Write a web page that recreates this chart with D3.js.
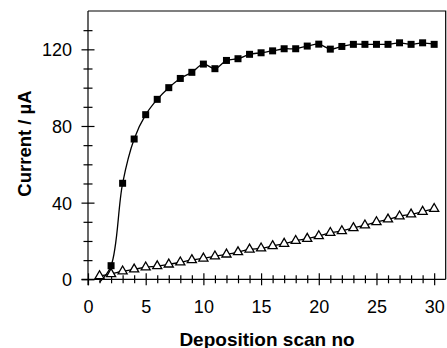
<!DOCTYPE html>
<html>
<head>
<meta charset="utf-8">
<script src="https://cdn.jsdelivr.net/npm/d3@7"></script>
<style>
  html, body { margin: 0; padding: 0; background: #fff; }
  svg { display: block; font-family: Arial, "Liberation Sans", sans-serif; }
</style>
</head>
<body>
<svg id="chart" width="447" height="348"></svg>
<script>
// ---- data ----
const scans = d3.range(1, 31);
const squareValues = [-1.5, 7.1, 50.1, 73.2, 85.9, 93.9, 100.0, 104.8, 108.0, 112.3,
  109.9, 114.2, 115.1, 117.4, 118.2, 119.2, 120.3, 120.3, 121.7, 122.7,
  120.1, 121.5, 122.6, 122.6, 122.6, 122.6, 123.4, 122.6, 123.4, 122.6];
const triangleValues = [1.7, 2.8, 4.2, 5.2, 6.3, 6.9, 7.8, 8.9, 10.1, 10.9,
  12.0, 13.0, 14.2, 15.6, 16.2, 17.4, 18.6, 20.1, 21.2, 22.6,
  24.3, 25.2, 26.8, 28.2, 29.9, 31.3, 32.9, 33.9, 35.3, 36.8];
const xTickLabels = [0, 5, 10, 15, 20, 25, 30];
const yTickLabels = [0, 40, 80, 120];
const xTitle = "Deposition scan no";
const yTitle = "Current / µA";

// ---- layout ----
const svg = d3.select("#chart");
const pLeft = 88, pRight = 445.7, pTop = 11, pBottom = 279.3;
const x = d3.scaleLinear().domain([0, 31]).range([pLeft, pRight]);
const y = d3.scaleLinear().domain([0, 140]).range([pBottom, pTop]);
const FONT = "Arial, 'Liberation Sans', sans-serif";

// frame (top and right)
svg.append("path")
  .attr("d", `M${pLeft},${pTop}H${pRight}V${pBottom}`)
  .attr("fill", "none").attr("stroke", "#000").attr("stroke-width", 1.2);

// y axis
const yAxis = d3.axisLeft(y)
  .tickValues(d3.range(0, 140, 10))
  .tickFormat(d => yTickLabels.includes(d) ? d : "")
  .tickSizeOuter(0);
const gy = svg.append("g").attr("transform", `translate(${pLeft},0)`).call(yAxis);
gy.select(".domain").attr("d", `M0,${pTop}V${pBottom + 6}`).attr("stroke-width", 1.2);
gy.selectAll(".tick line")
  .attr("x1", d => yTickLabels.includes(d) ? -6.5 : -4.5)
  .attr("x2", d => yTickLabels.includes(d) ? 6.5 : 4.5)
  .attr("stroke-width", 1.2);
gy.selectAll(".tick text").attr("x", -16).attr("dy", "0.36em")
  .attr("font-size", 18).attr("font-family", FONT).attr("fill", "#000");

// x axis
const xAxis = d3.axisBottom(x)
  .tickValues(d3.range(0, 31, 1))
  .tickFormat(d => xTickLabels.includes(d) ? d : "")
  .tickSizeOuter(0);
const gx = svg.append("g").attr("transform", `translate(0,${pBottom})`).call(xAxis);
gx.select(".domain").attr("d", `M${pLeft - 6.5},0H${pRight}`).attr("stroke-width", 1.2);
gx.selectAll(".tick line")
  .attr("y1", d => xTickLabels.includes(d) ? -6 : -4)
  .attr("y2", d => xTickLabels.includes(d) ? 6 : 4)
  .attr("stroke-width", 1.2);
gx.selectAll(".tick text").attr("y", 21.3)
  .attr("font-size", 18).attr("font-family", FONT).attr("fill", "#000");

// lines
const line = d3.line()
  .x((d, i) => x(scans[i]))
  .y(d => y(d))
  .curve(d3.curveCatmullRom.alpha(0.5));

svg.append("path").datum(squareValues)
  .attr("d", line).attr("fill", "none").attr("stroke", "#000").attr("stroke-width", 1.3);
svg.append("path").datum(triangleValues)
  .attr("d", line).attr("fill", "none").attr("stroke", "#000").attr("stroke-width", 1.3);

// markers
svg.append("g").selectAll("rect")
  .data(squareValues.map((v, i) => ({ s: scans[i], v })).filter(d => d.v > 0))
  .join("rect")
  .attr("x", d => x(d.s) - 3.5).attr("y", d => y(d.v) - 3.5)
  .attr("width", 7).attr("height", 7).attr("fill", "#000");

const tri = d3.symbol().type(d3.symbolTriangle).size(36);
svg.append("g").selectAll("path")
  .data(triangleValues.map((v, i) => ({ s: scans[i], v })))
  .join("path")
  .attr("transform", d => `translate(${x(d.s)},${y(d.v)})`)
  .attr("d", tri).attr("fill", "#fff").attr("stroke", "#000").attr("stroke-width", 1.3);

// titles
svg.append("text")
  .attr("x", 267).attr("y", 345.5)
  .attr("text-anchor", "middle").attr("font-weight", "bold").attr("font-size", 19)
  .attr("font-family", FONT)
  .text(xTitle);
svg.append("text")
  .attr("transform", "translate(31,143.5) rotate(-90)")
  .attr("text-anchor", "middle").attr("font-weight", "bold").attr("font-size", 18.5)
  .attr("font-family", FONT)
  .text(yTitle);
</script>
</body>
</html>
